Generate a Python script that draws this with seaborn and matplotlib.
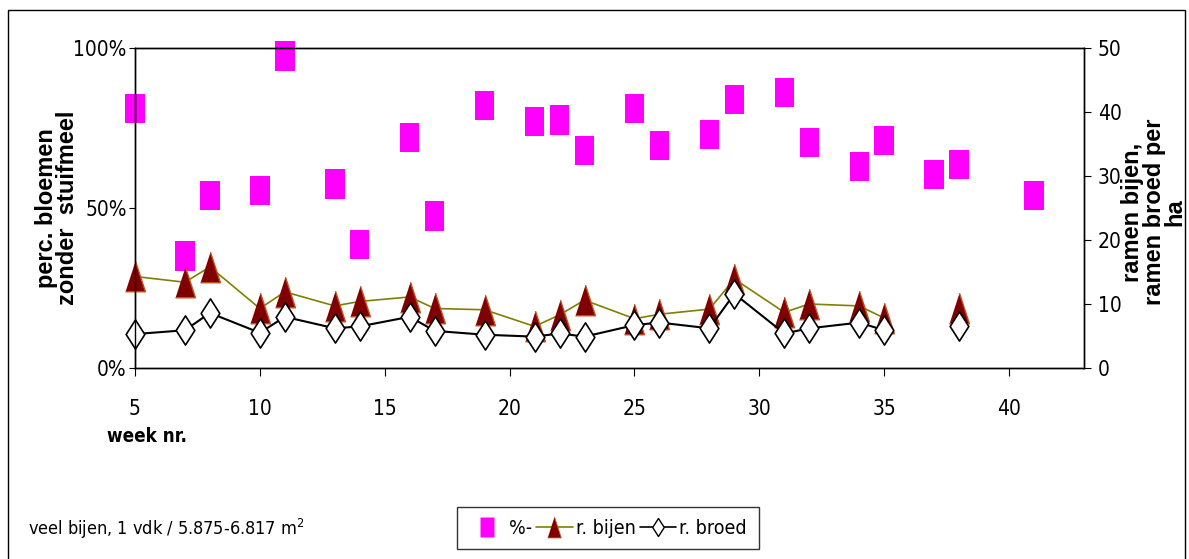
import matplotlib
matplotlib.use("Agg")
import pandas as pd
import seaborn as sns
from matplotlib import pyplot as plt
from matplotlib.lines import Line2D
from matplotlib.patches import Rectangle
from matplotlib.path import Path

weeks = [5, 7, 8, 10, 11, 13, 14, 16, 17, 19, 21, 22, 23, 25, 26, 28, 29, 31, 32, 34, 35, 37, 38, 41]
pct_zonder = [81, 35, 54, 55.5, 97.5, 57.5, 38.5, 72, 47.5, 82, 77, 77.5, 68, 81, 69.5, 73, 84, 86,
              70.5, 63, 71, 60.5, 63.5, 54]
ramen_bijen = [14.3, 13.4, 15.8, 9.3, 11.9, 9.7, 10.4, 11.1, 9.3, 9.1, 6.5, 8.3, 10.6, 7.7, 8.4, 9.2,
               13.9, 8.7, 10.0, 9.7, 7.8, None, 9.3, None]
ramen_broed = [5.3, 5.9, 8.6, 5.5, 8.0, 6.2, 6.5, 8.0, 5.8, 5.2, 4.9, 5.4, 4.9, 6.7, 7.1, 6.2,
               11.6, 5.4, 6.2, 7.1, 5.9, None, 6.6, None]
x_ticks = [5, 10, 15, 20, 25, 30, 35, 40]
left_ticks = [0, 50, 100]
right_ticks = [0, 10, 20, 30, 40, 50]

df = pd.DataFrame({"week": weeks, "pct": pct_zonder, "bijen": ramen_bijen, "broed": ramen_broed})
# lijnen onderbreken bij ontbrekende weken
for col in ["bijen", "broed"]:
    df[col + "_seg"] = df[col].isna().cumsum()

sns.set_style("white")
plt.rcParams["font.family"] = ["DejaVu Sans"]
plt.rcParams["font.stretch"] = "condensed"
plt.rcParams["text.color"] = "black"
plt.rcParams["xtick.color"] = "black"
plt.rcParams["ytick.color"] = "black"

rect = [(-1, -1.5), (1, -1.5), (1, 1.5), (-1, 1.5)]
tri = [(-0.65, -1), (0.65, -1), (0, 1)]
diam = Path([(0, 1), (0.64, 0), (0, -1), (-0.64, 0), (0, 1)], closed=True)

W, H = 1189, 559
fig = plt.figure(figsize=(W / 100, H / 100), dpi=100)
ax = fig.add_axes([135 / W, 1 - 368 / H, (1084 - 135) / W, (368 - 48) / H])
ax2 = ax.twinx()

sns.scatterplot(data=df, x="week", y="pct", ax=ax, marker=rect, s=440, color="#FF00FF",
                edgecolor="none", linewidth=0, clip_on=False, legend=False)

d_b = df.dropna(subset=["bijen"])
sns.lineplot(data=d_b, x="week", y="bijen", units="bijen_seg", estimator=None, ax=ax2,
             color="#808000", linewidth=1.2, marker=tri, markersize=22,
             markerfacecolor="#800000", markeredgecolor="#c0501e", markeredgewidth=1.0,
             clip_on=False, legend=False)
d_r = df.dropna(subset=["broed"])
sns.lineplot(data=d_r, x="week", y="broed", units="broed_seg", estimator=None, ax=ax2,
             color="black", linewidth=1.5, marker=diam, markersize=21,
             markerfacecolor="white", markeredgecolor="black", markeredgewidth=1.2,
             clip_on=False, legend=False)

ax.set_xlim(5, 43)
ax.set_ylim(0, 100)
ax2.set_ylim(0, 50)
ax.set_xticks(x_ticks)
ax.set_yticks(left_ticks)
ax2.set_yticks(right_ticks)
ax.yaxis.set_major_formatter(plt.FuncFormatter(lambda v, _: f"{int(v)}%"))
ax.set_xlabel("")
ax.set_ylabel("")
ax2.set_ylabel("")

for a in (ax, ax2):
    for s in a.spines.values():
        s.set_visible(True)
        s.set_color("black")
        s.set_linewidth(1.0)
ax.tick_params(axis="x", direction="out", length=6, width=0.8, pad=16, labelsize=15, bottom=True)
ax.tick_params(axis="y", direction="out", length=4, width=0.8, pad=2, labelsize=15, left=True)
ax2.tick_params(axis="y", direction="out", length=5, width=0.8, pad=5, labelsize=15, right=True)

fig.text(57 / W, 1 - 208 / H, "perc. bloemen\nzonder  stuifmeel", rotation=90, ha="center",
         va="center", multialignment="center", fontsize=17, fontweight="bold",
         family=["Liberation Sans", "DejaVu Sans"], stretch="normal", linespacing=0.9)
fig.text(1154 / W, 1 - 212 / H, "ramen bijen,\nramen broed per\nha", rotation=90, ha="center",
         va="center", multialignment="center", fontsize=17, fontweight="bold",
         family=["Liberation Sans", "DejaVu Sans"], stretch="normal", linespacing=0.9)
fig.text(107 / W, 1 - 437 / H, "week nr.", ha="left", va="center", fontsize=13.5, fontweight="bold")
fig.text(28 / W, 1 - 529 / H, "veel bijen, 1 vdk / 5.875-6.817 m$^2$", ha="left", va="center",
         fontsize=13)

handles = [
    Line2D([], [], ls="none", marker=rect, markersize=15, markerfacecolor="#FF00FF", markeredgecolor="none"),
    Line2D([], [], color="#808000", lw=1.2, marker=tri, markersize=15, markerfacecolor="#800000",
           markeredgecolor="#c0501e", markeredgewidth=0.6),
    Line2D([], [], color="black", lw=1.2, marker=diam, markersize=13, markerfacecolor="white",
           markeredgecolor="black", markeredgewidth=1.0),
]
leg = fig.legend(handles, ["%-", "r. bijen", "r. broed"], loc="center",
                 bbox_to_anchor=(608 / W, 1 - 528 / H), ncol=3, frameon=True, fancybox=False,
                 edgecolor="black", fontsize=14, handlelength=1.9, handletextpad=0.15,
                 columnspacing=0.2, borderpad=0.6)
leg.get_frame().set_linewidth(1.0)

fig.patches.append(Rectangle((8 / W, -0.05), (1185 - 8) / W, 1.05 - 10 / H, transform=fig.transFigure,
                             fill=False, edgecolor="black", linewidth=1.0))

fig.savefig("out.png", dpi=100)
